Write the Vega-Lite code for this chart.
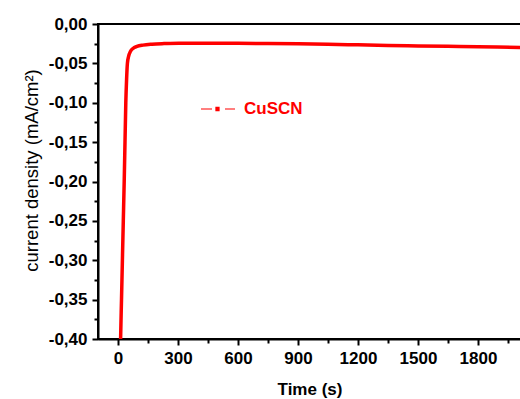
{
  "$schema": "https://vega.github.io/schema/vega-lite/v6.json",
  "autosize": "none",
  "width": 423,
  "height": 315,
  "padding": {"left": 98, "top": 24, "right": 0, "bottom": 60},
  "background": "white",
  "config": {
    "view": {"stroke": "black", "strokeWidth": 2},
    "axis": {
      "grid": false,
      "domainColor": "black",
      "domainWidth": 2,
      "tickColor": "black",
      "tickWidth": 2,
      "labelFont": "Liberation Sans",
      "labelFontWeight": "bold",
      "labelFontSize": 17,
      "labelColor": "black",
      "titleFont": "Liberation Sans",
      "titleFontWeight": "bold",
      "titleFontSize": 17,
      "titleColor": "black"
    }
  },
  "data": {
    "values": [
      {"t": 11, "j": -0.43, "series": "CuSCN"},
      {"t": 13, "j": -0.40, "series": "CuSCN"},
      {"t": 17.5, "j": -0.35, "series": "CuSCN"},
      {"t": 22, "j": -0.30, "series": "CuSCN"},
      {"t": 26.5, "j": -0.25, "series": "CuSCN"},
      {"t": 31, "j": -0.20, "series": "CuSCN"},
      {"t": 35, "j": -0.15, "series": "CuSCN"},
      {"t": 39, "j": -0.10, "series": "CuSCN"},
      {"t": 43, "j": -0.07, "series": "CuSCN"},
      {"t": 47, "j": -0.05, "series": "CuSCN"},
      {"t": 53, "j": -0.041, "series": "CuSCN"},
      {"t": 62, "j": -0.035, "series": "CuSCN"},
      {"t": 75, "j": -0.031, "series": "CuSCN"},
      {"t": 95, "j": -0.0285, "series": "CuSCN"},
      {"t": 125, "j": -0.0268, "series": "CuSCN"},
      {"t": 170, "j": -0.0256, "series": "CuSCN"},
      {"t": 230, "j": -0.0249, "series": "CuSCN"},
      {"t": 320, "j": -0.0245, "series": "CuSCN"},
      {"t": 450, "j": -0.0243, "series": "CuSCN"},
      {"t": 600, "j": -0.0245, "series": "CuSCN"},
      {"t": 750, "j": -0.0248, "series": "CuSCN"},
      {"t": 900, "j": -0.0252, "series": "CuSCN"},
      {"t": 1050, "j": -0.0258, "series": "CuSCN"},
      {"t": 1200, "j": -0.0265, "series": "CuSCN"},
      {"t": 1350, "j": -0.0272, "series": "CuSCN"},
      {"t": 1500, "j": -0.0278, "series": "CuSCN"},
      {"t": 1650, "j": -0.0284, "series": "CuSCN"},
      {"t": 1800, "j": -0.029, "series": "CuSCN"},
      {"t": 2015, "j": -0.0298, "series": "CuSCN"}
    ]
  },
  "mark": {"type": "line", "strokeWidth": 3.5, "clip": true, "interpolate": "monotone"},
  "encoding": {
    "x": {
      "field": "t",
      "type": "quantitative",
      "title": "Time (s)",
      "scale": {"domain": [-100, 2015], "nice": false, "zero": false},
      "axis": {
        "values": [0, 150, 300, 450, 600, 750, 900, 1050, 1200, 1350, 1500, 1650, 1800, 1950],
        "labelExpr": "datum.value % 300 === 0 ? datum.label : ''",
        "format": "d",
        "tickSize": {"condition": {"test": "datum.value % 300 === 0", "value": 6}, "value": 4},
        "labelPadding": 5,
        "titlePadding": 15,
        "labelFlush": false,
        "labelOverlap": false
      }
    },
    "y": {
      "field": "j",
      "type": "quantitative",
      "title": "current density (mA/cm²)",
      "scale": {"domain": [-0.4, 0], "nice": false, "zero": false},
      "axis": {
        "values": [0, -0.025, -0.05, -0.075, -0.1, -0.125, -0.15, -0.175, -0.2, -0.225, -0.25, -0.275, -0.3, -0.325, -0.35, -0.375, -0.4],
        "labelExpr": "abs(datum.value*20 - round(datum.value*20)) < 0.001 ? replace(replace(format(datum.value, '.2f'), '.', ','), '\u2212', '-') : ''",
        "tickSize": {"condition": {"test": "abs(datum.value*20 - round(datum.value*20)) < 0.001", "value": 6}, "value": 4},
        "labelPadding": 5,
        "titleFontWeight": "normal",
        "titleFontSize": 18.5,
        "titleBaseline": "alphabetic",
        "titleX": -61,
        "titleY": 146,
        "labelFlush": false,
        "labelOverlap": false
      }
    },
    "color": {
      "field": "series",
      "type": "nominal",
      "scale": {"range": ["#ff0000"]},
      "legend": {
        "title": null,
        "orient": "none",
        "legendX": 102,
        "legendY": 67,
        "padding": 0,
        "symbolType": "M-1,0L-0.35,0M0.41,0L1,0M-0.12,-0.1L0.06,-0.1L0.06,0.1L-0.12,0.1Z",
        "symbolSize": 1156,
        "symbolStrokeWidth": 1.2,
        "symbolFillColor": "#ff0000",
        "symbolStrokeColor": "#ff0000",
        "labelOffset": 8,
        "labelFont": "Liberation Sans",
        "labelFontWeight": "bold",
        "labelFontSize": 17,
        "labelColor": "#ff0000"
      }
    }
  }
}
